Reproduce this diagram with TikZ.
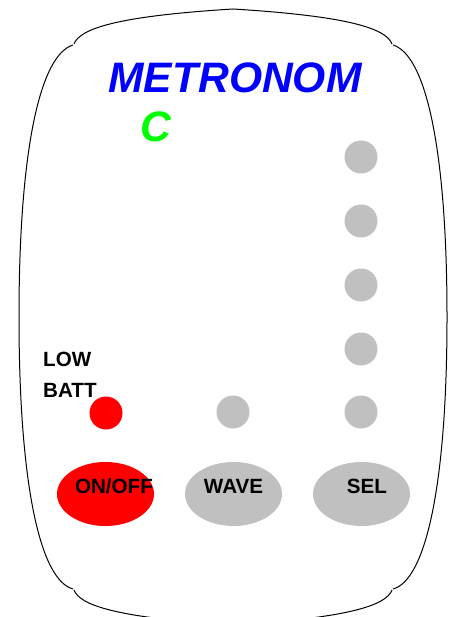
\documentclass[tikz,border=0pt]{standalone}
\usepackage{fontspec}
\setmainfont{Liberation Sans}
\usetikzlibrary{shapes.geometric}
\definecolor{btngray}{HTML}{C0C0C0}
\definecolor{mblue}{HTML}{0000FF}
\definecolor{mgreen}{HTML}{00FF00}
\definecolor{mred}{HTML}{FF0000}
\begin{document}
\begin{tikzpicture}[x=1pt,y=-1pt,
  outline/.style={draw=black,line width=1pt},
  led/.style={circle,fill=btngray,minimum size=33pt,inner sep=0pt},
  redled/.style={circle,fill=mred,minimum size=33pt,inner sep=0pt},
  btn/.style={ellipse,minimum width=97pt,minimum height=64pt,inner sep=0pt},
  lbl/.style={font=\fontsize{20.6}{22}\selectfont\bfseries,inner sep=0pt,anchor=base},
  title/.style={font=\fontsize{42.6}{46}\selectfont\bfseries\itshape,inner sep=0pt,anchor=base}]
\useasboundingbox (0,0) rectangle (453,617);
\clip (0,0) rectangle (453,617);
% outline
\draw[outline] (74,44) .. controls (80,28) and (120,16) .. (233,9) .. controls (346,16) and (386,28) .. (392,44);
\draw[outline] (73,45) .. controls (40,55) and (19,150) .. (19,317) .. controls (19,484) and (40,580) .. (73,589);
\draw[outline] (393,45) .. controls (426,55) and (447,150) .. (447,317) .. controls (447,484) and (426,580) .. (393,589);
\draw[outline] (74,590) .. controls (80,606) and (120,618) .. (233,625) .. controls (346,618) and (386,606) .. (392,590);
% texts
\node[title,text=mblue] (title) at (235,93) {METRONOM};
\node[title,text=mgreen] (c) at (156,142) {C};
\node[lbl,anchor=base west] (low) at (43,366) {LOW};
\node[lbl,anchor=base west] (batt) at (43,397) {BATT};
% leds
\node[redled] (bat) at (106,413) {};
\node[led] (w1) at (233,412) {};
\node[led] (s1) at (361,412) {};
\node[led] (s2) at (361,349) {};
\node[led] (s3) at (361,285) {};
\node[led] (s4) at (361,221) {};
\node[led] (s5) at (361,157) {};
% buttons
\node[btn,fill=mred] (onoff) at (105.5,494) {};
\node[btn,fill=btngray] (wave) at (233.5,494) {};
\node[btn,fill=btngray] (sel) at (361.5,494) {};
\node[lbl] (onofft) at (114,493) {ON/OFF};
\node[lbl] (wavet) at (233.5,493) {WAVE};
\node[lbl] (selt) at (367,493) {SEL};
\end{tikzpicture}
\end{document}
